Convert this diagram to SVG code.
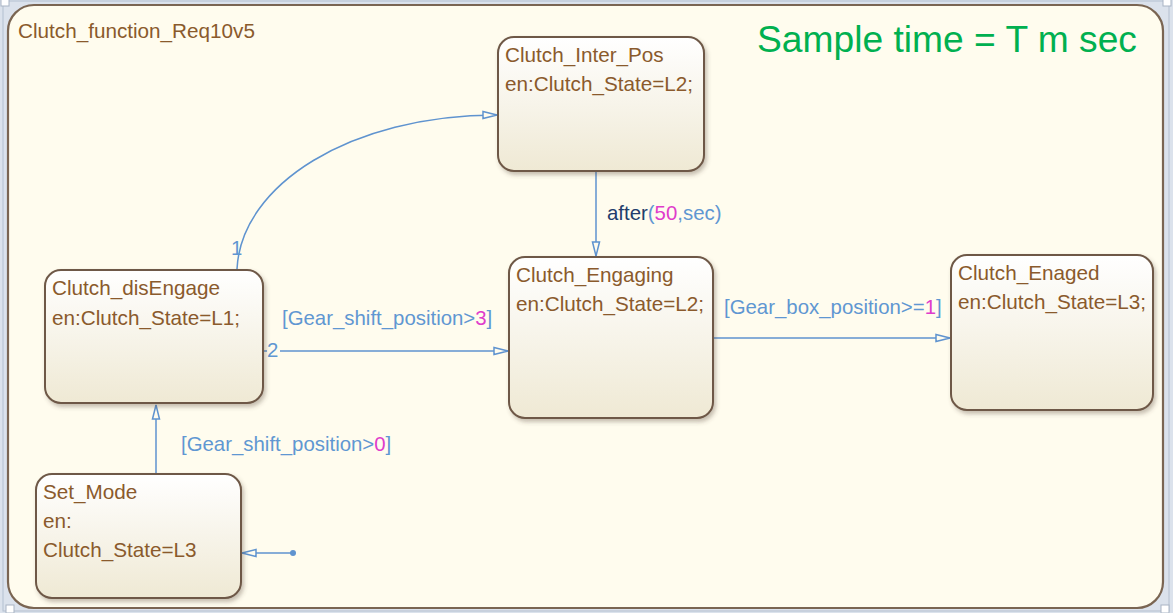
<svg xmlns="http://www.w3.org/2000/svg" width="1173" height="613" viewBox="0 0 1173 613">
  <style>
    .chart { fill: #fffcee; stroke: #7a6552; stroke-width: 2.2; }
    .state { fill: url(#stateFill); stroke: #6e5846; stroke-width: 2; filter: url(#shadow); }
    .stxt { font-family: "Liberation Sans", Arial, sans-serif; font-size: 20.7px; fill: #8a5a2c; }
    .edge { fill: none; stroke: #5f93cf; stroke-width: 1.5; }
    .lbl { font-family: "Liberation Sans", Arial, sans-serif; font-size: 20.4px; fill: #5f97d2; }
    .num { fill: #e03ccb; }
    .kw { fill: #223d6c; }
    .handle { fill: #ffffff; stroke: #a9b4c4; stroke-width: 1; }
  </style>
  <defs>
    <linearGradient id="stateFill" x1="0" y1="0" x2="0" y2="1">
      <stop offset="0" stop-color="#ffffff"/>
      <stop offset="1" stop-color="#efe9d4"/>
    </linearGradient>
    <filter id="shadow" x="-10%" y="-10%" width="125%" height="130%">
      <feDropShadow dx="2" dy="3" stdDeviation="2" flood-color="#5a4a3a" flood-opacity="0.35"/>
    </filter>
    <marker id="arrow" viewBox="0 0 16 10" refX="15" refY="5" markerWidth="16" markerHeight="10" markerUnits="userSpaceOnUse" orient="auto">
      <path d="M1,1.5 L15,5 L1,8.5 Z" fill="#fffcee" stroke="#5f93cf" stroke-width="1.5"/>
    </marker>
  </defs>

  <!-- editor canvas around the chart -->
  <rect x="0" y="0" width="1173" height="613" fill="#dbe2ec"/>
  <rect x="3" y="1" width="1166" height="610" fill="none" stroke="#b4bfcf" stroke-width="1"/>

  <!-- chart boundary -->
  <g id="chart">
    <rect class="chart" x="8" y="5" width="1155" height="603" rx="26" ry="26"/>
    <text class="stxt" x="18" y="38">Clutch_function_Req10v5</text>
    <text x="757" y="52" font-family="'Liberation Sans', Arial, sans-serif" font-size="37.2" fill="#00b050">Sample time = T m sec</text>
  </g>

  <!-- selection handles -->
  <rect class="handle" x="1" y="-2" width="8" height="8"/>
  <rect class="handle" x="1163" y="-2" width="8" height="8"/>
  <rect class="handle" x="6" y="605" width="8" height="8"/>
  <rect class="handle" x="1161" y="605" width="8" height="8"/>

  <!-- transitions -->
  <g id="connectors">
    <path class="edge" d="M237,269 C241,185 350,115 497,115" marker-end="url(#arrow)"/>
    <text class="lbl" x="231" y="255">1</text>

    <path class="edge" d="M263,351 L267,351"/>
    <path class="edge" d="M280,351 L508,351" marker-end="url(#arrow)"/>
    <text class="lbl" x="267" y="357">2</text>
    <text class="lbl" x="282" y="325">[Gear_shift_position&gt;<tspan class="num">3</tspan>]</text>

    <path class="edge" d="M596,172 L596,256" marker-end="url(#arrow)"/>
    <text class="lbl" x="607" y="220"><tspan class="kw">after</tspan>(<tspan class="num">50</tspan>,sec)</text>

    <path class="edge" d="M713,338 L950,338" marker-end="url(#arrow)"/>
    <text class="lbl" x="724" y="314">[Gear_box_position&gt;=<tspan class="num">1</tspan>]</text>

    <path class="edge" d="M156,474 L156,405" marker-end="url(#arrow)"/>
    <text class="lbl" x="181" y="451">[Gear_shift_position&gt;<tspan class="num">0</tspan>]</text>

    <path class="edge" d="M293,553 L242,553" marker-end="url(#arrow)"/>
    <circle cx="293" cy="553" r="3" fill="#5f93cf"/>
  </g>

  <!-- states -->
  <g id="Clutch_Inter_Pos">
    <rect class="state" x="498" y="37" width="206" height="134" rx="16"/>
    <text class="stxt" x="505" y="62">Clutch_Inter_Pos</text>
    <text class="stxt" x="505" y="91">en:Clutch_State=L2;</text>
  </g>

  <g id="Clutch_disEngage">
    <rect class="state" x="45" y="270" width="218" height="133" rx="16"/>
    <text class="stxt" x="52" y="295">Clutch_disEngage</text>
    <text class="stxt" x="52" y="325">en:Clutch_State=L1;</text>
  </g>

  <g id="Clutch_Engaging">
    <rect class="state" x="509" y="257" width="204" height="161" rx="16"/>
    <text class="stxt" x="516" y="282">Clutch_Engaging</text>
    <text class="stxt" x="516" y="311">en:Clutch_State=L2;</text>
  </g>

  <g id="Clutch_Enaged">
    <rect class="state" x="951" y="255" width="202" height="155" rx="16"/>
    <text class="stxt" x="958" y="280">Clutch_Enaged</text>
    <text class="stxt" x="958" y="309">en:Clutch_State=L3;</text>
  </g>

  <g id="Set_Mode">
    <rect class="state" x="36" y="474" width="205" height="124" rx="16"/>
    <text class="stxt" x="43" y="499">Set_Mode</text>
    <text class="stxt" x="43" y="528">en:</text>
    <text class="stxt" x="43" y="557">Clutch_State=L3</text>
  </g>
</svg>
